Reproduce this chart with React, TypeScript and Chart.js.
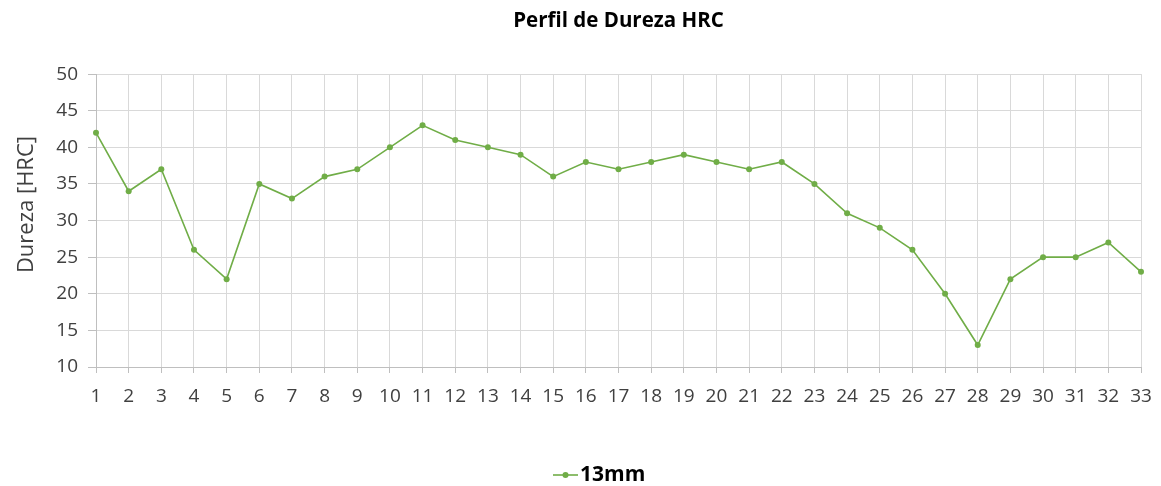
import React, { useEffect, useRef } from "react";
import { Chart, registerables } from "chart.js";

Chart.register(...registerables);

const categories = ["1","2","3","4","5","6","7","8","9","10","11","12","13","14","15","16","17","18","19","20","21","22","23","24","25","26","27","28","29","30","31","32","33"];
const values13mm = [42,34,37,26,22,35,33,36,37,40,43,41,40,39,36,38,37,38,39,38,37,38,35,31,29,26,20,13,22,25,25,27,23];
const yTicks = [10,15,20,25,30,35,40,45,50];
const seriesName = "13mm";
const yTitle = "Dureza [HRC]";
const chartTitle = "Perfil de Dureza HRC";

const GREEN = "#70AD47";
const FONT = "'Open Sans', 'Noto Sans', sans-serif";

const extrasPlugin = {
  id: "extras",
  afterDraw(chart: any) {
    const ctx = chart.ctx as CanvasRenderingContext2D;
    const area = chart.chartArea;
    ctx.save();
    // y-axis title
    ctx.translate(27, (area.top + area.bottom) / 2 - 16);
    ctx.rotate(-Math.PI / 2);
    ctx.fillStyle = "#404040";
    ctx.font = `22px ${FONT}`;
    ctx.textAlign = "center";
    ctx.textBaseline = "middle";
    ctx.fillText(yTitle, 0, 0);
    ctx.restore();

    // legend
    ctx.save();
    const ly = 475;
    ctx.strokeStyle = GREEN;
    ctx.lineWidth = 1.6;
    ctx.beginPath();
    ctx.moveTo(553, ly);
    ctx.lineTo(578, ly);
    ctx.stroke();
    ctx.fillStyle = GREEN;
    ctx.beginPath();
    ctx.arc(565.5, ly, 3, 0, Math.PI * 2);
    ctx.fill();
    ctx.fillStyle = "#000";
    ctx.font = `bold 21px ${FONT}`;
    ctx.textAlign = "left";
    ctx.textBaseline = "middle";
    ctx.fillText(seriesName, 580, ly);
    ctx.restore();
  },
};

export default function App() {
  const ref = useRef<HTMLCanvasElement>(null);
  useEffect(() => {
    const chart = new Chart(ref.current!, {
      type: "line",
      data: {
        labels: categories,
        datasets: [
          {
            label: seriesName,
            data: values13mm,
            borderColor: GREEN,
            backgroundColor: GREEN,
            borderWidth: 1.6,
            pointRadius: 3,
            pointBackgroundColor: GREEN,
            pointBorderWidth: 0,
            pointStyle: "circle",
            tension: 0,
          },
        ],
      },
      options: {
        responsive: false,
        animation: false,
        layout: { padding: { left: 0, right: 20, top: 0, bottom: 40 } },
        plugins: {
          title: {
            display: true,
            fullSize: false,
            text: chartTitle,
            color: "#000",
            font: { family: FONT, size: 20.5, weight: "bold" },
            padding: { top: 9, bottom: 40.5 },
          },
          legend: { display: false },
          tooltip: { enabled: false },
        },
        scales: {
          x: {
            offset: false,
            grid: { color: "#d9d9d9", tickLength: 6, tickColor: "#bfbfbf" },
            border: { color: "#bfbfbf" },
            ticks: {
              color: "#404040",
              font: { family: FONT, size: 19 },
              padding: 12,
              maxRotation: 0,
              autoSkip: false,
            },
            afterFit: (s: any) => {
              s.height = 79;
              s.paddingRight = 0;
              s.paddingLeft = 0;
            },
          },
          y: {
            min: 10,
            max: 50,
            afterBuildTicks: (s: any) => {
              s.ticks = yTicks.map((v) => ({ value: v }));
            },
            grid: { color: "#d9d9d9", tickLength: 8, tickColor: "#bfbfbf" },
            border: { color: "#bfbfbf" },
            ticks: {
              color: "#404040",
              font: { family: FONT, size: 19 },
              padding: 10,
            },
            afterFit: (s: any) => {
              s.width = 96;
            },
          },
        },
      } as any,
      plugins: [extrasPlugin],
    });
    return () => chart.destroy();
  }, []);
  return (
    <div style={{ position: "absolute", left: 0, top: 0, width: 1161, height: 486, background: "#fff" }}>
      <canvas ref={ref} width={1161} height={486} />
    </div>
  );
}
